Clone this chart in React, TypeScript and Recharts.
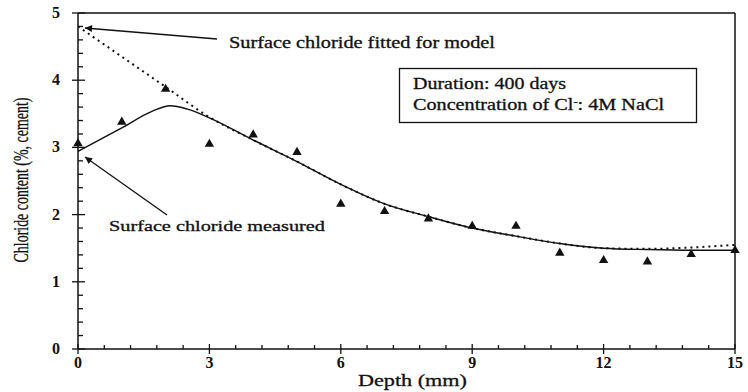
import { ComposedChart, Line, Scatter, XAxis, YAxis, ReferenceLine } from 'recharts';

// measured chloride profile (triangles)
const measuredDepth = [0, 1, 2, 3, 4, 5, 6, 7, 8, 9, 10, 11, 12, 13, 14, 15];
const measuredChloride = [3.06, 3.38, 3.87, 3.05, 3.19, 2.93, 2.16, 2.05, 1.94, 1.83, 1.83, 1.43, 1.32, 1.3, 1.41, 1.47];

// fit with the measured surface chloride (solid)
const fitDepth = [0, 1, 1.7, 2.1, 2.5, 3, 4, 5, 6, 7, 8, 9, 10, 11, 12, 13, 14, 15];
const fitChloride = [2.94, 3.29, 3.54, 3.62, 3.57, 3.44, 3.11, 2.79, 2.45, 2.16, 1.97, 1.8, 1.68, 1.57, 1.5, 1.48, 1.47, 1.47];

// fit with the surface chloride fitted for the model (dotted)
const modelDepth = [0, 1, 2, 3, 4, 5, 6, 7, 8, 9, 10, 11, 12, 13, 14, 15];
const modelChloride = [4.8, 4.35, 3.9, 3.45, 3.11, 2.79, 2.45, 2.16, 1.97, 1.8, 1.68, 1.57, 1.5, 1.49, 1.51, 1.55];

const xTicks = Array.from({ length: 26 }, (_, i) => +(i * 0.6).toFixed(1));
const yTicks = Array.from({ length: 26 }, (_, i) => +(i * 0.2).toFixed(1));

const FONT = '"Liberation Serif", "Times New Roman", serif';
const INK = '#111';

const toPoints = (xs: number[], ys: number[]) => xs.map((x, i) => ({ x, y: ys[i] }));

const measuredData = toPoints(measuredDepth, measuredChloride);
const fitData = toPoints(fitDepth, fitChloride);
const modelData = toPoints(modelDepth, modelChloride);

function XTick(props: any) {
  const { x, y, payload } = props;
  const v = payload.value as number;
  const major = Math.abs(v / 3 - Math.round(v / 3)) < 1e-6;
  return (
    <g>
      <line x1={x} x2={x} y1={y - (major ? 5 : 4)} y2={y + (major ? 5 : 0)} stroke={INK} strokeWidth={1.3} />
      {major && (
        <text x={x} y={y + 19} textAnchor="middle" fontFamily={FONT} fontWeight="bold" fontSize={16} fill={INK}>
          {v}
        </text>
      )}
    </g>
  );
}

function YTick(props: any) {
  const { x, y, payload } = props;
  const v = payload.value as number;
  const major = Math.abs(v - Math.round(v)) < 1e-6;
  return (
    <g>
      <line x1={x - (major ? 6 : 0)} x2={x + (major ? 7 : 5)} y1={y} y2={y} stroke={INK} strokeWidth={1.3} />
      {major && (
        <text x={x - 18} y={y + 5} textAnchor="end" fontFamily={FONT} fontWeight="bold" fontSize={16} fill={INK}>
          {v}
        </text>
      )}
    </g>
  );
}

function Triangle(props: any) {
  const { cx, cy } = props;
  return (
    <polygon
      points={`${cx},${cy - 5.3} ${cx + 4.7},${cy + 2.8} ${cx - 4.7},${cy + 2.8}`}
      fill={INK}
    />
  );
}

export default function App() {
  return (
    <div style={{ position: 'absolute', left: 0, top: 0, width: 748, height: 392, background: '#fff' }}>
      <ComposedChart width={748} height={392} margin={{ top: 13, right: 13, bottom: 3, left: 18 }}>
        <XAxis
          dataKey="x"
          type="number"
          domain={[0, 15]}
          ticks={xTicks}
          interval={0}
          height={40}
          tickSize={0}
          tickMargin={0}
          tickLine={false}
          axisLine={{ stroke: INK, strokeWidth: 1.5 }}
          tick={(p: any) => <XTick {...p} />}
        />
        <YAxis
          type="number"
          domain={[0, 5]}
          ticks={yTicks}
          interval={0}
          width={60}
          tickSize={0}
          tickMargin={0}
          tickLine={false}
          axisLine={{ stroke: INK, strokeWidth: 1.5 }}
          tick={(p: any) => <YTick {...p} />}
        />
        <ReferenceLine y={5} stroke={INK} strokeWidth={1.5} />
        <ReferenceLine x={15} stroke={INK} strokeWidth={1.5} />
        <Line
          data={modelData}
          dataKey="y"
          type="monotone"
          stroke={INK}
          strokeWidth={2}
          strokeDasharray="2 4"
          dot={false}
          isAnimationActive={false}
        />
        <Line
          data={fitData}
          dataKey="y"
          type="monotone"
          stroke={INK}
          strokeWidth={1.4}
          dot={false}
          isAnimationActive={false}
        />
        <Scatter data={measuredData} dataKey="y" shape={<Triangle />} isAnimationActive={false} />
      </ComposedChart>

      <svg width={748} height={392} style={{ position: 'absolute', left: 0, top: 0, pointerEvents: 'none' }}>
        <defs>
          <marker id="head" viewBox="0 0 10 10" refX="10" refY="5" markerWidth="11" markerHeight="7"
            markerUnits="userSpaceOnUse" orient="auto">
            <path d="M0,0 L10,5 L0,10 z" fill={INK} />
          </marker>
        </defs>
        <g fontFamily={FONT} fill={INK} stroke={INK} strokeWidth={0.3}>
          <text
            transform="translate(28,180) rotate(-90)"
            textAnchor="middle"
            fontSize={20}
            textLength={165}
            lengthAdjust="spacingAndGlyphs"
          >
            Chloride content (%, cement)
          </text>
          <text x={358} y={386} fontSize={17} textLength={109} lengthAdjust="spacingAndGlyphs">
            Depth (mm)
          </text>

          <line x1={217} y1={39} x2={85} y2={28} stroke={INK} strokeWidth={1.3} markerEnd="url(#head)" />
          <text x={229} y={48} fontSize={16} textLength={266} lengthAdjust="spacingAndGlyphs">
            Surface chloride fitted for model
          </text>

          <line x1={167} y1={215} x2={85} y2={157} stroke={INK} strokeWidth={1.3} markerEnd="url(#head)" />
          <text x={109} y={231} fontSize={15} textLength={216} lengthAdjust="spacingAndGlyphs">
            Surface chloride measured
          </text>

          <rect x={399.5} y={68.5} width={297} height={54} fill="#fff" stroke={INK} strokeWidth={1.3} />
          <text x={413} y={89} fontSize={16} textLength={153} lengthAdjust="spacingAndGlyphs">
            Duration: 400 days
          </text>
          <text x={413} y={110} fontSize={16} textLength={251} lengthAdjust="spacingAndGlyphs">
            Concentration of Cl<tspan dy={-5} fontSize={10}>-</tspan><tspan dy={5}>: 4M NaCl</tspan>
          </text>
        </g>
      </svg>
    </div>
  );
}
